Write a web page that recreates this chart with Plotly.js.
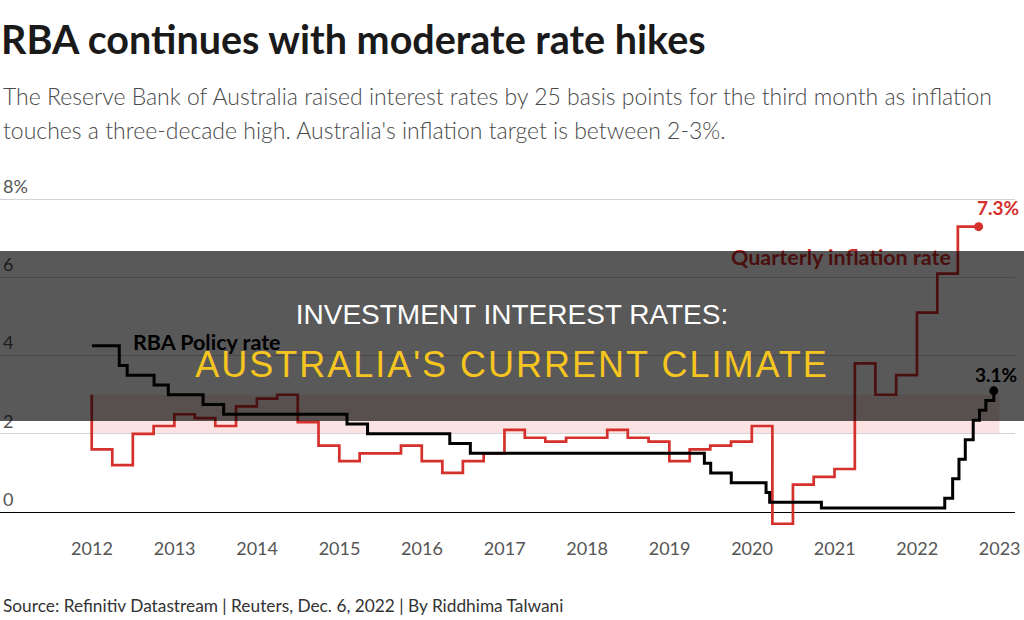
<!DOCTYPE html>
<html>
<head>
<meta charset="utf-8">
<script src="https://cdn.plot.ly/plotly-3.0.1.min.js"></script>
<style>
  html, body { margin: 0; padding: 0; background: #fff; }
  #wrap { position: relative; width: 1024px; height: 620px; overflow: hidden; }
  #chart { width: 1024px; height: 620px; }
  #banner {
    position: absolute; left: 0; top: 251px; width: 1024px; height: 170px;
    background: rgba(0, 0, 0, 0.65); pointer-events: none;
    font-family: "Liberation Sans", Arial, sans-serif; text-align: center;
  }
  #banner .l1 { position: absolute; left: 0; right: 0; top: 48px; color: #ffffff; font-size: 28px; line-height: 32px; }
  #banner .l2 { position: absolute; left: 0; right: 0; top: 93px; color: #f6c520; font-size: 36px; line-height: 42px; letter-spacing: 2px; }
</style>
</head>
<body>
<div id="wrap">
  <div id="chart"></div>
  <div id="banner">
    <div class="l1">INVESTMENT INTEREST RATES:</div>
    <div class="l2">AUSTRALIA'S CURRENT CLIMATE</div>
  </div>
</div>
<script>
// Quarterly CPI inflation, year on year (%), at quarter-end dates
const inflationDates = [
  '2011-12-31',
  '2012-03-31', '2012-06-30', '2012-09-30', '2012-12-31',
  '2013-03-31', '2013-06-30', '2013-09-30', '2013-12-31',
  '2014-03-31', '2014-06-30', '2014-09-30', '2014-12-31',
  '2015-03-31', '2015-06-30', '2015-09-30', '2015-12-31',
  '2016-03-31', '2016-06-30', '2016-09-30', '2016-12-31',
  '2017-03-31', '2017-06-30', '2017-09-30', '2017-12-31',
  '2018-03-31', '2018-06-30', '2018-09-30', '2018-12-31',
  '2019-03-31', '2019-06-30', '2019-09-30', '2019-12-31',
  '2020-03-31', '2020-06-30', '2020-09-30', '2020-12-31',
  '2021-03-31', '2021-06-30', '2021-09-30', '2021-12-31',
  '2022-03-31', '2022-06-30', '2022-09-30'
];
const inflationValues = [
  3.0,
  1.6, 1.2, 2.0, 2.2,
  2.5, 2.4, 2.2, 2.7,
  2.9, 3.0, 2.3, 1.7,
  1.3, 1.5, 1.5, 1.7,
  1.3, 1.0, 1.3, 1.5,
  2.1, 1.9, 1.8, 1.9,
  1.9, 2.1, 1.9, 1.8,
  1.3, 1.6, 1.7, 1.8,
  2.2, -0.3, 0.7, 0.9,
  1.1, 3.8, 3.0, 3.5,
  5.1, 6.1, 7.3
];

// RBA cash rate target (%), dates of each decision
const policyDates = [
  '2012-01-01', '2012-05-01', '2012-06-05', '2012-10-02', '2012-12-04',
  '2013-05-07', '2013-08-06', '2015-02-03', '2015-05-05', '2016-05-03',
  '2016-08-02', '2019-06-04', '2019-07-02', '2019-10-01', '2020-03-03',
  '2020-03-19', '2020-11-03', '2022-05-03', '2022-06-07', '2022-07-05',
  '2022-08-02', '2022-09-06', '2022-10-04', '2022-11-01', '2022-12-06'
];
const policyValues = [
  4.25, 3.75, 3.5, 3.25, 3.0,
  2.75, 2.5, 2.25, 2.0, 1.75,
  1.5, 1.25, 1.0, 0.75, 0.5,
  0.25, 0.1, 0.35, 0.85, 1.35,
  1.85, 2.35, 2.6, 2.85, 3.1
];

// Inflation target band (%)
const targetBand = [2, 3];
const targetBandDates = ['2012-01-01', '2022-12-31'];

// Axis ticks
const yearTicks = [2012, 2013, 2014, 2015, 2016, 2017, 2018, 2019, 2020, 2021, 2022, 2023];
const yTickValues = [0, 2, 4, 6, 8];
const yTickText = ['0', '2', '4', '6', '8%'];

const RED = '#d5302b';
const BASE_FONT = 'Lato, "Noto Sans", sans-serif';

// plot area spans pixels 170..536 vertically; helper for paper-space text rows
const PLOT_TOP = 170, PLOT_BOTTOM = 536;
const rowY = py => (PLOT_BOTTOM - py) / (PLOT_BOTTOM - PLOT_TOP);

const lastInfl = { x: inflationDates.at(-1), y: inflationValues.at(-1) };
const lastPolicy = { x: policyDates.at(-1), y: policyValues.at(-1) };

const traces = [
  {
    type: 'scatter', mode: 'lines', name: 'Quarterly inflation rate',
    x: inflationDates, y: inflationValues,
    line: { color: RED, width: 2.7, shape: 'vh' },
    hoverinfo: 'skip'
  },
  {
    type: 'scatter', mode: 'lines', name: 'RBA Policy rate',
    x: policyDates, y: policyValues,
    line: { color: '#000000', width: 3, shape: 'hv' },
    hoverinfo: 'skip'
  },
  {
    type: 'scatter', mode: 'markers',
    x: [lastInfl.x], y: [lastInfl.y],
    marker: { color: RED, size: 9 }, hoverinfo: 'skip'
  },
  {
    type: 'scatter', mode: 'markers',
    x: [lastPolicy.x], y: [lastPolicy.y],
    marker: { color: '#000000', size: 9 }, hoverinfo: 'skip'
  }
];

const layout = {
  width: 1024, height: 620,
  margin: { l: 0, r: 9, t: PLOT_TOP, b: 620 - PLOT_BOTTOM, pad: 0 },
  paper_bgcolor: '#ffffff', plot_bgcolor: '#ffffff',
  showlegend: false,
  font: { family: BASE_FONT, color: '#555555' },
  title: {
    text: 'RBA continues with moderate rate hikes',
    x: 0.001, xanchor: 'left', xref: 'paper',
    y: 1 - 40 / 620, yanchor: 'middle', yref: 'container',
    font: { family: BASE_FONT, size: 39.5, weight: 700, color: '#1a1a1a' }
  },
  xaxis: {
    type: 'date',
    range: ['2010-11-20', '2023-03-10'],
    tickvals: yearTicks.map(y => y + '-01-01'),
    ticktext: yearTicks.map(String),
    tickfont: { family: BASE_FONT, size: 18, color: '#555555' },
    showgrid: false, zeroline: false, showline: false, ticks: '',
    fixedrange: true
  },
  yaxis: {
    range: [-0.614, 8.749],
    tickvals: yTickValues, ticktext: yTickText,
    ticklabelposition: 'inside top',
    tickfont: { family: BASE_FONT, size: 18, color: '#555555' },
    showgrid: true, gridcolor: '#d2d2d2', gridwidth: 1,
    zeroline: true, zerolinecolor: '#000000', zerolinewidth: 1,
    showline: false, ticks: '',
    fixedrange: true
  },
  shapes: [
    {
      type: 'rect', layer: 'below', xref: 'x', yref: 'y',
      x0: targetBandDates[0], x1: targetBandDates[1],
      y0: targetBand[0], y1: targetBand[1],
      fillcolor: '#fce3e3', line: { width: 0 }
    }
  ],
  annotations: [
    {
      xref: 'paper', yref: 'paper', x: 0.001, y: rowY(96),
      xanchor: 'left', yanchor: 'middle', showarrow: false,
      text: 'The Reserve Bank of Australia raised interest rates by 25 basis points for the third month as inflation',
      font: { family: BASE_FONT, size: 23, color: '#4a4a4a', weight: 300 }
    },
    {
      xref: 'paper', yref: 'paper', x: 0.001, y: rowY(130),
      xanchor: 'left', yanchor: 'middle', showarrow: false,
      text: "touches a three-decade high. Australia's inflation target is between 2-3%.",
      font: { family: BASE_FONT, size: 23, color: '#4a4a4a', weight: 300 }
    },
    {
      xref: 'paper', yref: 'paper', x: 0.001, y: rowY(605),
      xanchor: 'left', yanchor: 'middle', showarrow: false,
      text: 'Source: Refinitiv Datastream | Reuters, Dec. 6, 2022 | By Riddhima Talwani',
      font: { family: BASE_FONT, size: 17.3, color: '#333333' }
    },
    {
      xref: 'paper', yref: 'y', x: 131 / 1015, y: 4.35,
      xanchor: 'left', yanchor: 'middle', showarrow: false,
      text: 'RBA Policy rate',
      font: { family: BASE_FONT, size: 21.5, weight: 700, color: '#000000' }
    },
    {
      xref: 'paper', yref: 'y', x: 953 / 1015, y: 6.52,
      xanchor: 'right', yanchor: 'middle', showarrow: false,
      text: 'Quarterly inflation rate',
      font: { family: BASE_FONT, size: 21.5, weight: 700, color: RED }
    },
    {
      xref: 'x', yref: 'y', x: lastInfl.x, y: lastInfl.y,
      xanchor: 'center', yanchor: 'middle', xshift: 19, yshift: 19, showarrow: false,
      text: lastInfl.y.toFixed(1) + '%',
      font: { family: BASE_FONT, size: 19, weight: 700, color: RED }
    },
    {
      xref: 'x', yref: 'y', x: lastPolicy.x, y: lastPolicy.y,
      xanchor: 'center', yanchor: 'middle', xshift: 2, yshift: 16, showarrow: false,
      text: lastPolicy.y.toFixed(1) + '%',
      font: { family: BASE_FONT, size: 19, weight: 700, color: '#000000' }
    }
  ]
};

Plotly.newPlot('chart', traces, layout, { staticPlot: true, displayModeBar: false });
</script>
</body>
</html>
